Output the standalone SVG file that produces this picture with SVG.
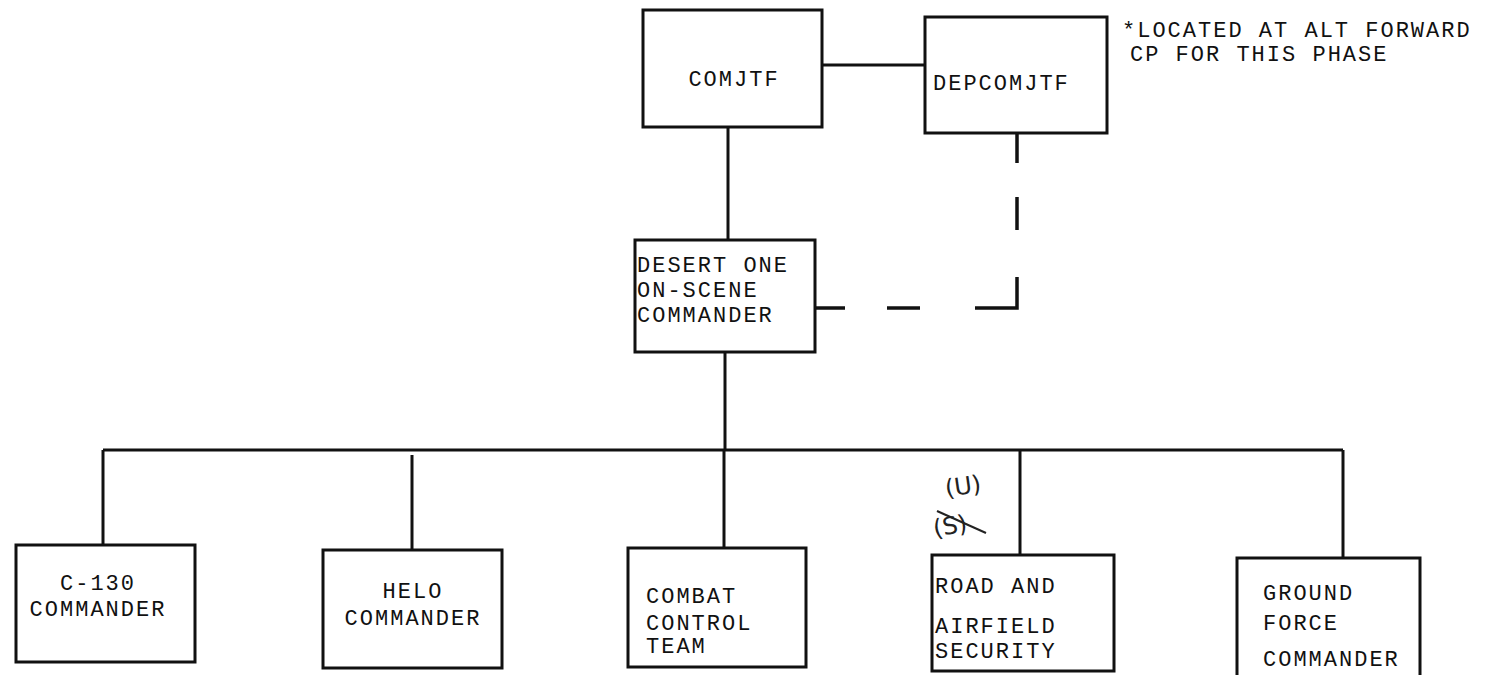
<svg xmlns="http://www.w3.org/2000/svg" width="1485" height="675" viewBox="0 0 1485 675">
<style>
.box{fill:#fff;stroke:#111;stroke-width:3}
.ln{fill:none;stroke:#111;stroke-width:3}
.dash{fill:none;stroke:#111;stroke-width:3.5}
.t{font-family:"Liberation Mono","Courier New",monospace;font-size:22px;letter-spacing:2px;fill:#111}
.hw{font-family:"DejaVu Sans",sans-serif;font-size:24px;fill:#222}
</style>
<rect width="1485" height="675" fill="#fff"/>
<g id="connectors">
<line class="ln" x1="822" y1="65" x2="925" y2="65"/>
<line class="ln" x1="728" y1="127" x2="728" y2="240"/>
<line class="ln" x1="725" y1="352" x2="725" y2="450"/>
<line class="ln" x1="103" y1="450" x2="1343" y2="450"/>
<line class="ln" x1="103" y1="450" x2="103" y2="545"/>
<line class="ln" x1="412" y1="455" x2="412" y2="550"/>
<line class="ln" x1="724" y1="450" x2="724" y2="548"/>
<line class="ln" x1="1020" y1="450" x2="1020" y2="555"/>
<line class="ln" x1="1343" y1="450" x2="1343" y2="558"/>
<line class="dash" x1="1017" y1="133" x2="1017" y2="163"/>
<line class="dash" x1="1017" y1="197" x2="1017" y2="230"/>
<polyline class="dash" points="1017,277 1017,308 975,308"/>
<line class="dash" x1="887" y1="308" x2="920" y2="308"/>
<line class="dash" x1="815" y1="308" x2="845" y2="308"/>
</g>
<g id="comjtf">
<rect class="box" x="643" y="10" width="179" height="117"/>
<text class="t" x="734" y="86" text-anchor="middle">COMJTF</text>
</g>
<g id="depcomjtf">
<rect class="box" x="925" y="17" width="182" height="116"/>
<text class="t" x="933" y="90">DEPCOMJTF</text>
</g>
<g id="note">
<text class="t" x="1122" y="37">*LOCATED AT ALT FORWARD</text>
<text class="t" x="1130" y="61">CP FOR THIS PHASE</text>
</g>
<g id="desert-one">
<rect class="box" x="635" y="240" width="180" height="112"/>
<text class="t" x="637" y="272">DESERT ONE</text>
<text class="t" x="637" y="297">ON-SCENE</text>
<text class="t" x="637" y="322">COMMANDER</text>
</g>
<g id="c130">
<rect class="box" x="16" y="545" width="179" height="117"/>
<text class="t" x="98" y="590" text-anchor="middle">C-130</text>
<text class="t" x="98" y="616" text-anchor="middle">COMMANDER</text>
</g>
<g id="helo">
<rect class="box" x="323" y="550" width="179" height="118"/>
<text class="t" x="413" y="598" text-anchor="middle">HELO</text>
<text class="t" x="413" y="625" text-anchor="middle">COMMANDER</text>
</g>
<g id="cct">
<rect class="box" x="628" y="548" width="178" height="119"/>
<text class="t" x="646" y="603">COMBAT</text>
<text class="t" x="646" y="630">CONTROL</text>
<text class="t" x="646" y="653">TEAM</text>
</g>
<g id="road">
<rect class="box" x="932" y="555" width="182" height="116"/>
<text class="t" x="935" y="593">ROAD AND</text>
<text class="t" x="935" y="633">AIRFIELD</text>
<text class="t" x="935" y="658">SECURITY</text>
</g>
<g id="ground">
<rect class="box" x="1237" y="558" width="183" height="122"/>
<text class="t" x="1263" y="600">GROUND</text>
<text class="t" x="1263" y="630">FORCE</text>
<text class="t" x="1263" y="666">COMMANDER</text>
</g>
<g id="marking">
<text class="hw" x="932" y="534" transform="rotate(-10 950 520)">(S)</text>
<line x1="937" y1="511" x2="986" y2="533" stroke="#222" stroke-width="2"/>
<text class="hw" x="944" y="494" transform="rotate(-8 965 480)">(U)</text>
</g>
</svg>
